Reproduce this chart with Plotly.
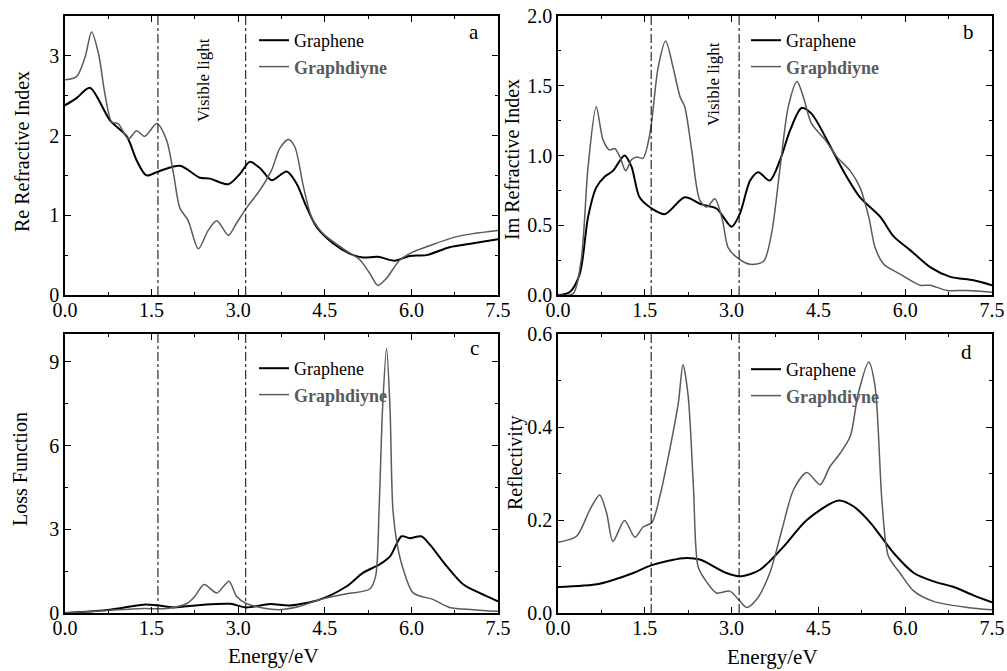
import plotly.graph_objects as go
from plotly.subplots import make_subplots

# ---------------- data ----------------
# (a) Re refractive index
a_gr_x = [0, 0.2, 0.43, 0.78, 1.07, 1.24, 1.41, 1.62, 1.99, 2.34, 2.51, 2.83, 3.03, 3.2, 3.38, 3.58, 3.84, 4.01, 4.18, 4.36, 4.64, 4.93, 5.16, 5.42, 5.71, 5.97, 6.26, 6.66, 7.07, 7.5]
a_gr_y = [2.38, 2.47, 2.60, 2.19, 1.99, 1.69, 1.50, 1.55, 1.62, 1.47, 1.46, 1.39, 1.52, 1.67, 1.59, 1.44, 1.55, 1.40, 1.11, 0.85, 0.65, 0.52, 0.47, 0.48, 0.43, 0.49, 0.50, 0.60, 0.65, 0.70]
a_gd_x = [0, 0.2, 0.35, 0.46, 0.58, 0.69, 0.81, 0.92, 1.1, 1.24, 1.38, 1.59, 1.76, 1.88, 1.99, 2.13, 2.31, 2.48, 2.63, 2.83, 2.97, 3.14, 3.38, 3.58, 3.72, 3.87, 3.98, 4.13, 4.27, 4.47, 4.82, 5.11, 5.28, 5.42, 5.57, 5.8, 6.03, 6.32, 6.72, 7.07, 7.5]
a_gd_y = [2.70, 2.74, 2.99, 3.30, 3.03, 2.53, 2.17, 2.15, 1.96, 2.06, 1.99, 2.15, 1.94, 1.52, 1.09, 0.94, 0.58, 0.81, 0.93, 0.75, 0.90, 1.09, 1.32, 1.57, 1.84, 1.95, 1.86, 1.36, 0.98, 0.77, 0.58, 0.44, 0.27, 0.12, 0.21, 0.44, 0.54, 0.62, 0.72, 0.77, 0.81]

# (b) Im refractive index
b_gr_x = [0, 0.2, 0.375, 0.52, 0.66, 0.81, 0.95, 1.15, 1.27, 1.41, 1.62, 1.85, 2.19, 2.48, 2.74, 3.0, 3.14, 3.32, 3.46, 3.66, 3.84, 4.01, 4.21, 4.38, 4.65, 4.93, 5.22, 5.57, 5.8, 6.09, 6.43, 6.78, 7.18, 7.5]
b_gr_y = [0.0, 0.02, 0.15, 0.56, 0.77, 0.85, 0.89, 1.00, 0.92, 0.70, 0.62, 0.58, 0.70, 0.65, 0.62, 0.49, 0.58, 0.82, 0.88, 0.82, 0.97, 1.18, 1.34, 1.30, 1.11, 0.89, 0.70, 0.56, 0.42, 0.32, 0.20, 0.13, 0.105, 0.07]
b_gd_x = [0, 0.26, 0.4, 0.52, 0.66, 0.78, 0.89, 0.98, 1.07, 1.17, 1.27, 1.36, 1.47, 1.59, 1.73, 1.86, 1.99, 2.11, 2.19, 2.31, 2.45, 2.57, 2.71, 2.84, 2.94, 3.09, 3.32, 3.55, 3.69, 3.84, 3.98, 4.13, 4.24, 4.38, 4.62, 4.82, 5.05, 5.22, 5.37, 5.48, 5.63, 5.91, 6.26, 6.43, 6.72, 7.07, 7.5]
b_gd_y = [0.0, 0.01, 0.25, 0.92, 1.35, 1.11, 1.04, 1.05, 0.99, 0.89, 0.97, 0.99, 0.98, 1.16, 1.63, 1.82, 1.63, 1.42, 1.35, 1.04, 0.68, 0.63, 0.69, 0.54, 0.34, 0.27, 0.22, 0.24, 0.44, 0.92, 1.35, 1.53, 1.42, 1.23, 1.11, 0.99, 0.89, 0.77, 0.56, 0.34, 0.22, 0.15, 0.07, 0.07, 0.033, 0.033, 0.02]

# (c) Loss function
c_gr_x = [0, 0.78, 1.36, 1.62, 1.88, 2.34, 2.86, 3.14, 3.55, 3.9, 4.41, 4.88, 5.16, 5.45, 5.63, 5.83, 5.97, 6.17, 6.32, 6.61, 6.9, 7.18, 7.5]
c_gr_y = [0.0, 0.12, 0.30, 0.27, 0.20, 0.29, 0.33, 0.20, 0.32, 0.27, 0.48, 0.96, 1.44, 1.74, 2.03, 2.75, 2.68, 2.75, 2.45, 1.68, 1.02, 0.72, 0.42]
c_gd_x = [0, 0.78, 1.36, 1.76, 2.11, 2.25, 2.41, 2.63, 2.84, 2.97, 3.14, 3.43, 3.72, 4.07, 4.41, 4.88, 5.28, 5.38, 5.44, 5.5, 5.57, 5.63, 5.68, 5.76, 5.86, 6.03, 6.38, 6.66, 7.07, 7.5]
c_gd_y = [0.0, 0.10, 0.16, 0.16, 0.34, 0.60, 1.02, 0.72, 1.14, 0.60, 0.34, 0.18, 0.12, 0.24, 0.48, 0.69, 0.86, 1.32, 3.70, 7.30, 9.48, 7.30, 3.70, 2.40, 1.56, 0.72, 0.48, 0.20, 0.12, 0.06]

# (d) Reflectivity
d_gr_x = [0, 0.72, 1.3, 1.62, 2.16, 2.45, 2.91, 3.17, 3.49, 3.9, 4.3, 4.85, 5.11, 5.4, 5.8, 6.15, 6.49, 6.84, 7.18, 7.5]
d_gr_y = [0.056, 0.063, 0.086, 0.103, 0.118, 0.115, 0.086, 0.079, 0.093, 0.143, 0.200, 0.242, 0.229, 0.194, 0.129, 0.086, 0.068, 0.056, 0.038, 0.023]
d_gd_x = [0, 0.32, 0.55, 0.72, 0.84, 0.95, 1.15, 1.33, 1.47, 1.62, 1.76, 1.93, 2.08, 2.16, 2.25, 2.34, 2.42, 2.54, 2.74, 2.97, 3.12, 3.26, 3.43, 3.66, 3.87, 4.07, 4.3, 4.53, 4.7, 4.88, 5.05, 5.19, 5.37, 5.48, 5.6, 5.71, 5.91, 6.15, 6.49, 7.07, 7.5]
d_gd_y = [0.152, 0.165, 0.222, 0.254, 0.215, 0.154, 0.199, 0.163, 0.185, 0.194, 0.251, 0.351, 0.452, 0.534, 0.466, 0.272, 0.100, 0.072, 0.043, 0.047, 0.029, 0.012, 0.029, 0.086, 0.179, 0.265, 0.302, 0.276, 0.315, 0.344, 0.380, 0.473, 0.540, 0.487, 0.237, 0.122, 0.086, 0.047, 0.025, 0.012, 0.007]

visible_bounds = [1.61, 3.13]
series_names = ["Graphene", "Graphdiyne"]
panel_letters = ["a", "b", "c", "d"]
y_titles = ["Re Refractive Index", "Im Refractive Index", "Loss Function", "Reflectivity"]
x_title = "Energy/eV"

# ---------------- figure ----------------
W, H = 1007, 671
FONT = "Liberation Serif"
BLACK = "#000000"
GRAY = "#5a5a5a"

def px(x):
    return x / W

def py(y):
    return 1 - y / H

fig = make_subplots(rows=2, cols=2)

panels = [
    (1, 1, a_gr_x, a_gr_y, a_gd_x, a_gd_y, "legend"),
    (1, 2, b_gr_x, b_gr_y, b_gd_x, b_gd_y, "legend2"),
    (2, 1, c_gr_x, c_gr_y, c_gd_x, c_gd_y, "legend3"),
    (2, 2, d_gr_x, d_gr_y, d_gd_x, d_gd_y, "legend4"),
]
gd_label = '<span style="color:%s"><b>%s</b></span>' % (GRAY, series_names[1])
for r, c, gx, gy, dx, dy, lg in panels:
    fig.add_trace(go.Scatter(x=gx, y=gy, mode="lines", name=series_names[0],
                             line=dict(color=BLACK, width=2, shape="spline", smoothing=0.8),
                             legend=lg), row=r, col=c)
    fig.add_trace(go.Scatter(x=dx, y=dy, mode="lines", name=gd_label,
                             line=dict(color=GRAY, width=1.5, shape="spline", smoothing=0.8),
                             legend=lg), row=r, col=c)
    for xb in visible_bounds:
        fig.add_vline(x=xb, line=dict(color=BLACK, width=1, dash="dashdot"), row=r, col=c)

# domains (pixel based)
left_dom = [px(65), px(498)]
right_dom = [px(558), px(992)]
top_dom = [py(295), py(16)]
bot_dom = [py(613), py(334)]

axis_common = dict(
    showline=True, linecolor=BLACK, linewidth=1.5, mirror="ticks",
    ticks="inside", ticklen=6, tickwidth=1.2, tickcolor=BLACK,
    showgrid=False, zeroline=False, automargin=False,
    tickfont=dict(family=FONT, size=20, color=BLACK),
)
xcommon = dict(axis_common, range=[0, 7.5], dtick=1.5, tick0=0, tickformat=".1f",
               ticklabelstandoff=-4,
               minor=dict(ticks="inside", ticklen=3, dtick=0.75, tick0=0, tickcolor=BLACK, showgrid=False))

fig.update_layout(
    template="none",
    font=dict(family=FONT, color=BLACK),
    xaxis=dict(xcommon, domain=left_dom),
    xaxis2=dict(xcommon, domain=right_dom),
    xaxis3=dict(xcommon, domain=left_dom),
    xaxis4=dict(xcommon, domain=right_dom),
    yaxis=dict(axis_common, domain=top_dom, range=[0, 3.5], dtick=1, tick0=0,
               minor=dict(ticks="inside", ticklen=3, dtick=0.5, tick0=0, tickcolor=BLACK)),
    yaxis2=dict(axis_common, domain=top_dom, range=[0, 2.0], dtick=0.5, tick0=0, tickformat=".1f",
                minor=dict(ticks="inside", ticklen=3, dtick=0.25, tick0=0, tickcolor=BLACK)),
    yaxis3=dict(axis_common, domain=bot_dom, range=[0, 10], dtick=3, tick0=0,
                minor=dict(ticks="inside", ticklen=3, dtick=1.5, tick0=0, tickcolor=BLACK)),
    yaxis4=dict(axis_common, domain=bot_dom, range=[0, 0.6], dtick=0.2, tick0=0, tickformat=".1f",
                minor=dict(ticks="inside", ticklen=3, dtick=0.1, tick0=0, tickcolor=BLACK)),
)

leg_common = dict(bgcolor="rgba(0,0,0,0)", borderwidth=0, tracegroupgap=0,
                  font=dict(family=FONT, size=18, color=BLACK),
                  xanchor="left", yanchor="top", itemwidth=30)
fig.update_layout(
    width=W, height=H,
    margin=dict(l=0, r=0, t=0, b=0, autoexpand=False),
    paper_bgcolor="white", plot_bgcolor="white",
    showlegend=True,
    legend=dict(leg_common, x=px(254), y=py(22)),
    legend2=dict(leg_common, x=px(746), y=py(22)),
    legend3=dict(leg_common, x=px(254), y=py(350)),
    legend4=dict(leg_common, x=px(746), y=py(351)),
)

annots = []
# panel letters
for letter, (xx, yy) in zip(panel_letters, [(474, 32), (968, 32), (474, 348), (966, 352)]):
    annots.append(dict(text=letter, x=px(xx), y=py(yy), xref="paper", yref="paper",
                       showarrow=False, xanchor="center", yanchor="middle",
                       font=dict(family=FONT, size=21, color=BLACK)))
# visible light
for xx, yy in [(203, 80), (713, 84)]:
    annots.append(dict(text="Visible light", x=px(xx), y=py(yy), xref="paper", yref="paper",
                       showarrow=False, textangle=-90, xanchor="center", yanchor="middle",
                       font=dict(family=FONT, size=17, color=BLACK)))
# y titles
for t, (xx, yy) in zip(y_titles, [(22, 152), (512, 160), (20, 469), (515, 463)]):
    annots.append(dict(text=t, x=px(xx), y=py(yy), xref="paper", yref="paper",
                       showarrow=False, textangle=-90, xanchor="center", yanchor="middle",
                       font=dict(family=FONT, size=20, color=BLACK)))
# x titles
for xx, yy in [(273, 656), (772, 657)]:
    annots.append(dict(text=x_title, x=px(xx), y=py(yy), xref="paper", yref="paper",
                       showarrow=False, xanchor="center", yanchor="middle",
                       font=dict(family=FONT, size=21, color=BLACK)))
fig.update_layout(annotations=annots)

fig.write_html("out.html", config={"displayModeBar": False},
               post_script="document.body.style.margin='0';document.body.style.padding='0';")
